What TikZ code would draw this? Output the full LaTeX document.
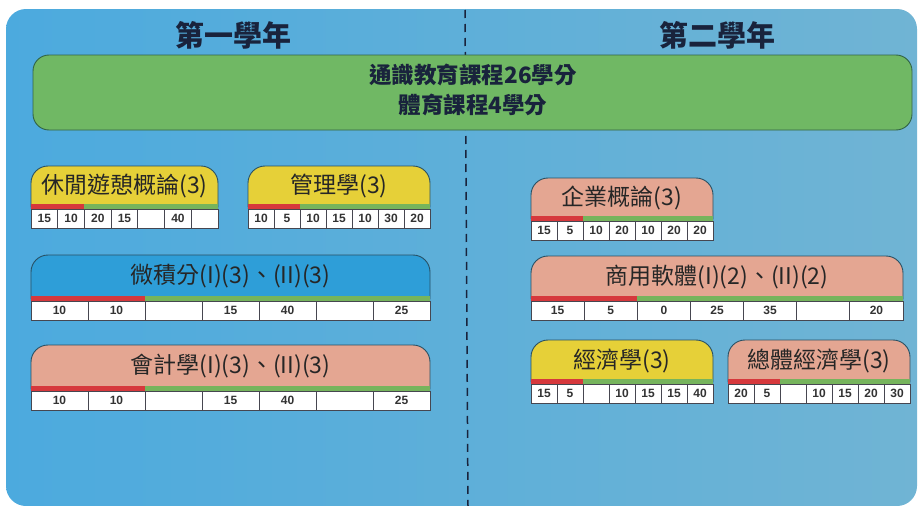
\documentclass[tikz,border=0pt]{standalone}
\usepackage{fontspec}
\newfontfamily\cjk{Noto Sans CJK TC}
\newfontfamily\numf{Liberation Sans}
\definecolor{bgL}{RGB}{76,170,222}
\definecolor{bgR}{RGB}{112,180,212}
\definecolor{band}{RGB}{112,184,100}
\definecolor{bandE}{RGB}{50,100,70}
\definecolor{tabY}{RGB}{230,208,56}
\definecolor{tabB}{RGB}{46,158,216}
\definecolor{tabS}{RGB}{228,166,146}
\definecolor{tabE}{RGB}{40,80,100}
\definecolor{barR}{RGB}{214,56,60}
\definecolor{barG}{RGB}{118,180,92}
\definecolor{cellE}{RGB}{70,70,80}
\definecolor{ink}{RGB}{25,35,60}
\tikzset{
  tabshape/.style={draw=tabE, line width=0.9pt, rounded corners=17pt},
  titletext/.style={font=\cjk\fontsize{23}{26}\selectfont, text=black!85, inner sep=0pt},
  cellbox/.style={draw=cellE, line width=0.8pt, fill=white, inner sep=0pt, minimum height=19pt,
    font=\numf\bfseries\fontsize{12}{14}\selectfont, text=black!80},
  heading/.style={font=\cjk\bfseries\fontsize{29}{32}\selectfont, text=ink, inner sep=0pt},
  bandtext/.style={font=\cjk\bfseries\fontsize{22.5}{25}\selectfont, text=ink, inner sep=0pt},
  dashline/.style={draw=ink, line width=1.5pt, dash pattern=on 8pt off 6pt},
}
% #1 name, #2 x1, #3 x2, #4 ytop, #5 ybar, #6 fill, #7 title, #8 values
\newcommand\coursebox[8]{%
  \pgfmathsetmacro\cw{(#3-#2)/7}%
  \draw[tabshape, fill=#6] (#2,#4) rectangle (#3,#5+18);
  \node[titletext] (#1) at ({(#2+#3)/2},{(#4+#5)/2+1}) {#7};
  \fill[barR] (#2,#5) rectangle ({#2+2*\cw},#5+5);
  \fill[barG] ({#2+2*\cw},#5) rectangle (#3,#5+5);
  \foreach \v [count=\i from 0] in {#8} {
    \node[cellbox, minimum width=\cw pt] (#1-\i) at ({#2+(\i+0.5)*\cw},#5+14.5) {\v};
  }
}
\begin{document}
\begin{tikzpicture}[x=1pt,y=-1pt]
\useasboundingbox (0,0) rectangle (919,506);
\fill[white] (0,0) rectangle (919,506);
\shade[left color=bgL, right color=bgR, rounded corners=20pt] (6,9) rectangle (917,506);
\coordinate (dtop) at (465,10);
\coordinate (dbot) at (468,506);
\draw[dashline] (dtop) -- (dbot);
\node[heading] (y1) at (233,35) {第一學年};
\node[heading] (y2) at (717,35) {第二學年};
\draw[fill=band, draw=bandE, line width=0.9pt, rounded corners=16pt] (33,55) rectangle (912,130);
\node[bandtext] (ge1) at (473,75) {通識教育課程26學分};
\node[bandtext] (ge2) at (473,105) {體育課程4學分};
\coursebox{c1}{31}{218}{166}{204}{tabY}{休閒遊憩概論(3)}{15,10,20,15,{},40,{}}
\coursebox{c2}{248}{430}{166}{204}{tabY}{管理學(3)}{10,5,10,15,10,30,20}
\coursebox{c3}{31}{430}{255}{296}{tabB}{微積分(I)(3)、(II)(3)}{10,10,{},15,40,{},25}
\coursebox{c4}{31}{430}{345}{386}{tabS}{會計學(I)(3)、(II)(3)}{10,10,{},15,40,{},25}
\coursebox{c5}{531}{713}{178}{216}{tabS}{企業概論(3)}{15,5,10,20,10,20,20}
\coursebox{c6}{531}{903}{256}{296}{tabS}{商用軟體(I)(2)、(II)(2)}{15,5,0,25,35,{},20}
\coursebox{c7}{531}{713}{340}{379}{tabY}{經濟學(3)}{15,5,{},10,15,15,40}
\coursebox{c8}{728}{910}{340}{379}{tabS}{總體經濟學(3)}{20,5,{},10,15,20,30}
\end{tikzpicture}
\end{document}
